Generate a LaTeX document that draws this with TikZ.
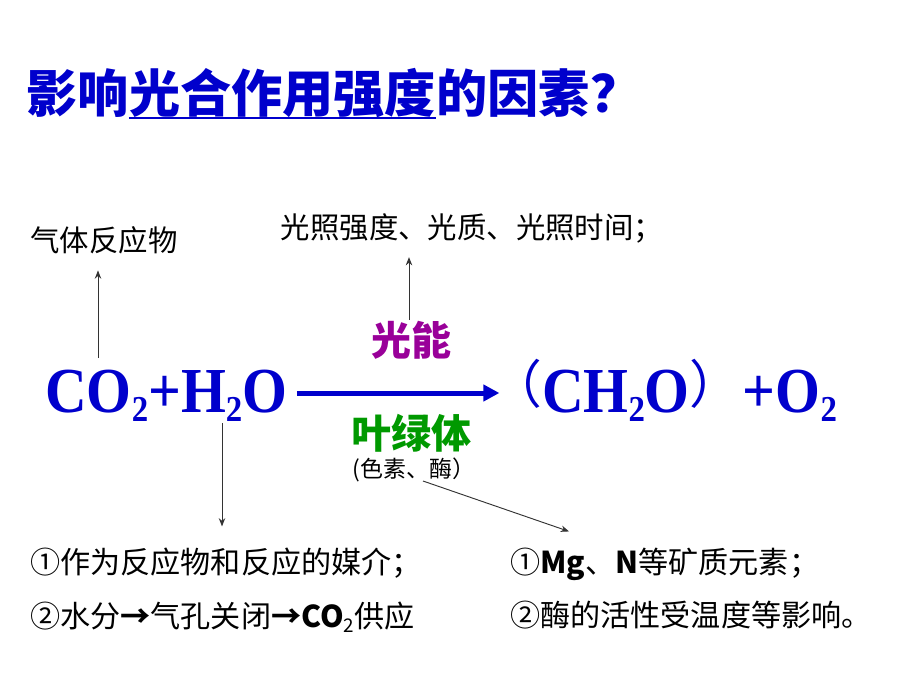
\documentclass[tikz,border=0pt]{standalone}
\usepackage{fontspec}
\usetikzlibrary{arrows.meta,positioning}

\newfontfamily\cjk{Noto Sans CJK SC}
\newfontfamily\eqfont[FakeStretch=0.9]{Liberation Serif}

\definecolor{titleblue}{RGB}{0,0,204}
\definecolor{energypurple}{RGB}{153,0,153}
\definecolor{leafgreen}{RGB}{0,153,0}

\newcommand{\eqsub}[1]{\raisebox{-8pt}{\fontsize{31}{31}\selectfont #1}}
\newcommand{\txtsub}[1]{\raisebox{-4pt}{\fontsize{16}{16}\selectfont #1}}
\newcommand{\fwparen}[1]{\raisebox{7pt}{\cjk\mdseries\fontsize{44}{44}\selectfont #1}}

\tikzset{
  title text/.style={inner sep=0pt, text=titleblue, font=\cjk\bfseries\fontsize{43.5}{43.5}\selectfont},
  eq text/.style={inner sep=0pt, text=titleblue, font=\eqfont\bfseries\fontsize{54.5}{54.5}\selectfont},
  note text/.style={inner sep=0pt, font=\cjk\fontsize{25}{25}\selectfont},
  list text/.style={inner sep=0pt, anchor=west, font=\cjk\fontsize{25.6}{25.6}\selectfont},
  thin arrow/.style={black!80, line width=0.8pt, -{Stealth[length=7pt,width=5.5pt]}},
  main arrow/.style={titleblue, line width=4.25pt, -{Triangle[length=13.6pt,width=13.6pt]}}
}

\begin{document}
\begin{tikzpicture}[x=0.85pt,y=-0.85pt]
  \useasboundingbox (0,0) rectangle (920,690);

  % title
  \node[title text, anchor=west] (t1) at (26,93) {影响};
  \node[title text, anchor=base west] (t2) at (t1.base east) {光合作用强度};
  \node[title text, anchor=base west] (t3) at (t2.base east) {的因素？};
  \draw[titleblue, line width=2pt] (t2.west |- 0,118) -- (t2.east |- 0,118);

  % equation
  \node[eq text, anchor=base west] (lhs) at (45,412) {CO\eqsub{2}+H\eqsub{2}O};
  \node[eq text, anchor=base west] (prod) at (490,412)
    {\fwparen{（}CH\eqsub{2}O\fwparen{）}\hspace{1pt}+O\eqsub{2}};
  \coordinate (arrowlevel) at (0,393);
  \draw[main arrow, shorten <=8pt, shorten >=-8pt] (lhs.east |- arrowlevel) -- (prod.west |- arrowlevel);

  \node[inner sep=0pt, text=energypurple, font=\cjk\bfseries\fontsize{34}{34}\selectfont] (light) at (411,340) {光能};
  \node[inner sep=0pt, text=leafgreen, font=\cjk\bfseries\fontsize{34}{34}\selectfont] (chloro) at (411,433) {叶绿体};
  \node[inner sep=0pt, font=\cjk\fontsize{19.5}{19.5}\selectfont] (pigment) at (414,470) {(色素、酶）};

  % factors
  \node[note text] (gas) at (104,240) {气体反应物};
  \node[note text] (lightq) at (472,228) {光照强度、光质、光照时间；};

  \node[list text] (water1) at (30,563) {①作为反应物和反应的媒介；};
  \node[list text] (water2) at (30,617) {②水分{\bfseries →}气孔关闭{\bfseries →}{\bfseries CO}\txtsub{2}供应};
  \node[list text] (enzyme1) at (510,564) {①{\bfseries Mg}、{\bfseries N}等矿质元素；};
  \node[list text] (enzyme2) at (510,615) {②酶的活性受温度等影响。};

  % connectors
  \coordinate (co2top) at (98,358);
  \coordinate (h2obot) at (222,423);
  \coordinate (lightbot) at (409,320);
  \coordinate (enzymetail) at (423,481);
  \draw[thin arrow] (co2top) -- ([yshift=-14pt]gas.south -| co2top);
  \draw[thin arrow] (lightbot) -- ([yshift=-12pt]lightq.south -| lightbot);
  \draw[thin arrow] (h2obot) -- ([yshift=18pt]water1.north -| h2obot);
  \draw[thin arrow] (enzymetail) -- ([shift={(59,-16)}]enzyme1.north west);
\end{tikzpicture}
\end{document}
